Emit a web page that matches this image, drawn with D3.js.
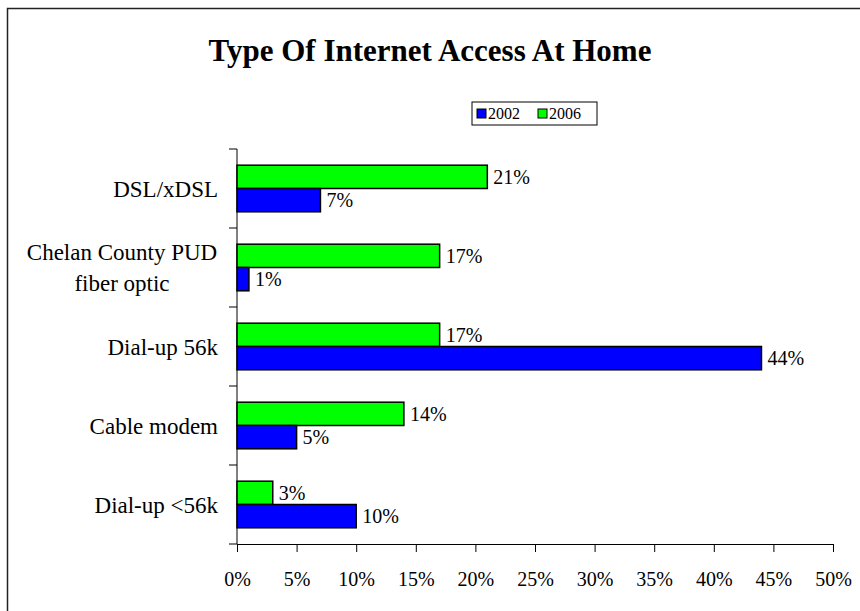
<!DOCTYPE html>
<html>
<head>
<meta charset="utf-8">
<script src="https://cdn.jsdelivr.net/npm/d3@7"></script>
<style>
  html, body { margin: 0; padding: 0; background: #fff; }
  svg { display: block; }
  text { font-family: "Liberation Serif", "Times New Roman", serif; fill: #000; }
</style>
</head>
<body>
<svg id="chart" width="860" height="611"></svg>
<script>
// Access types, top to bottom
const categories = ["DSL/xDSL", "Chelan County PUD\nfiber optic", "Dial-up 56k", "Cable modem", "Dial-up <56k"];
// Share of households (%) per survey year
const values2002 = [7, 1, 44, 5, 10];
const values2006 = [21, 17, 17, 14, 3];
const seriesNames = ["2002", "2006"];
const seriesColors = ["#0000ff", "#00ff00"];
const xTicks = [0, 5, 10, 15, 20, 25, 30, 35, 40, 45, 50];

const svg = d3.select("#chart");

// Outer frame
svg.append("rect")
  .attr("x", 7.5).attr("y", 8.5)
  .attr("width", 900).attr("height", 700)
  .attr("fill", "none").attr("stroke", "#222").attr("stroke-width", 1.5);

const plot = { left: 237, right: 833, top: 149, bottom: 544 };

const x = d3.scaleLinear().domain([0, 50]).range([plot.left, plot.right]);
const y = d3.scaleBand().domain(categories).range([plot.top, plot.bottom])
  .paddingInner(0.41).paddingOuter(0.205);
// Inside each category: 2006 on top, 2002 below
const sub = d3.scaleBand().domain(["2006", "2002"]).range([0, y.bandwidth()]);

// Title
svg.append("text")
  .attr("x", 430).attr("y", 61)
  .attr("text-anchor", "middle")
  .style("font-size", "31px").style("font-weight", "bold")
  .text("Type Of Internet Access At Home");

// Legend
const lg = svg.append("g").attr("transform", "translate(472,102)");
lg.append("rect").attr("width", 125).attr("height", 23)
  .attr("fill", "#fff").attr("stroke", "#000").attr("stroke-width", 1);
seriesNames.forEach((name, i) => {
  const gx = 5 + i * 61;
  lg.append("rect").attr("x", gx).attr("y", 7).attr("width", 9).attr("height", 9)
    .attr("fill", seriesColors[i]).attr("stroke", "#000").attr("stroke-width", 1);
  lg.append("text").attr("x", gx + 11).attr("y", 17)
    .style("font-size", "16px").text(name);
});

// Axes
const xAxis = d3.axisBottom(x).tickValues(xTicks).tickFormat(d => d + "%").tickSize(8).tickSizeOuter(0);
const gx = svg.append("g").attr("transform", `translate(0,${plot.bottom})`).call(xAxis);
gx.selectAll("text").style("font-size", "20px").attr("y", 28).attr("dy", "0.71em");

const bandTicks = categories.map(c => y(c) - y.step() * y.paddingInner() / 2);
bandTicks.push(plot.bottom);
const gy = svg.append("g");
gy.append("line").attr("x1", plot.left).attr("x2", plot.left)
  .attr("y1", plot.top).attr("y2", plot.bottom);
gy.selectAll("line.tk").data([plot.top].concat(bandTicks.slice(1)))
  .join("line").attr("class", "tk")
  .attr("x1", plot.left - 8).attr("x2", plot.left)
  .attr("y1", d => d).attr("y2", d => d);
svg.selectAll("line").attr("stroke", "#000").attr("stroke-width", 1);
gx.selectAll("path, line").attr("stroke", "#000").attr("stroke-width", 1);

// Category labels
const catG = svg.append("g");
categories.forEach(c => {
  const lines = c.split("\n");
  const cy = y(c) + y.bandwidth() / 2;
  const lh = 31;
  const t = catG.append("text").attr("text-anchor", "middle")
    .style("font-size", "23px");
  lines.forEach((ln, i) => {
    t.append("tspan")
      .attr("x", lines.length > 1 ? 122 : 218)
      .attr("y", cy + (i - (lines.length - 1) / 2) * lh)
      .attr("dy", "0.35em")
      .text(ln);
  });
  if (lines.length === 1) t.attr("text-anchor", "end");
});

// Bars
const rows = categories.map((c, i) => ({ c, v2002: values2002[i], v2006: values2006[i] }));
const series = [
  { key: "2006", color: seriesColors[1], get: d => d.v2006 },
  { key: "2002", color: seriesColors[0], get: d => d.v2002 }
];
series.forEach(s => {
  svg.append("g").selectAll("rect").data(rows).join("rect")
    .attr("x", x(0))
    .attr("y", d => y(d.c) + sub(s.key))
    .attr("width", d => x(s.get(d)) - x(0))
    .attr("height", sub.bandwidth())
    .attr("fill", s.color)
    .attr("stroke", "#000").attr("stroke-width", 1.5);
  svg.append("g").selectAll("text").data(rows).join("text")
    .attr("x", d => x(s.get(d)) + 6)
    .attr("y", d => y(d.c) + sub(s.key) + sub.bandwidth() / 2)
    .attr("dy", "0.35em")
    .style("font-size", "20px")
    .text(d => s.get(d) + "%");
});
</script>
</body>
</html>
